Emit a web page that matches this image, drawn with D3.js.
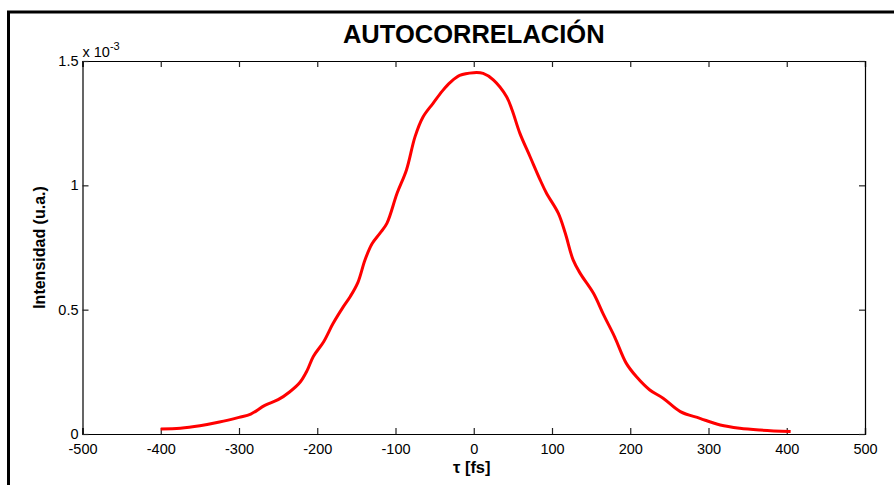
<!DOCTYPE html>
<html><head><meta charset="utf-8">
<script src="https://cdn.jsdelivr.net/npm/d3@7"></script>
<style>body{margin:0;background:#fff}svg{display:block}text{font-family:"Liberation Sans",Arial,sans-serif}</style>
</head><body>
<svg id="c" width="894" height="485"></svg>
<script>
const tau = [-400,-375,-350,-325,-300,-285,-267,-250,-235,-222,-213,-205,-192,-180,-167,-158,-148,-139,-130,-120,-111,-98,-86,-75,-65,-52,-40,-30,-18,0,12,25,42,49,59,72,85,93,108,117,127,136,153,166,180,195,208,225,242,264,289,315,340,366,405];
const intens = [0.020,0.023,0.033,0.048,0.067,0.080,0.115,0.138,0.170,0.208,0.255,0.312,0.370,0.443,0.510,0.552,0.610,0.700,0.765,0.807,0.847,0.968,1.062,1.196,1.274,1.330,1.380,1.414,1.442,1.453,1.450,1.424,1.356,1.303,1.209,1.115,1.021,0.968,0.888,0.807,0.700,0.646,0.566,0.479,0.391,0.284,0.230,0.177,0.144,0.090,0.063,0.036,0.023,0.016,0.010].map(v=>v*1e-3);
const xTicks = [-500,-400,-300,-200,-100,0,100,200,300,400,500];
const yTicks = [0,0.5e-3,1e-3,1.5e-3];
const yTickLabels = ["0","0.5","1","1.5"];
const title = "AUTOCORRELACIÓN";
const xLabel = "τ [fs]";
const yLabel = "Intensidad (u.a.)";

const svg = d3.select("#c");
const L=82.5, R=865, T=61, B=434;
const x = d3.scaleLinear().domain([-500,500]).range([L,R]);
const y = d3.scaleLinear().domain([0,1.5e-3]).range([B,T]);

svg.append("rect").attr("x",8.5).attr("y",12).attr("width",1000).attr("height",600)
  .attr("fill","none").attr("stroke","#000").attr("stroke-width",3);

const tl=6;
const gb = svg.append("g").attr("transform",`translate(0,${B})`)
  .call(d3.axisBottom(x).tickValues(xTicks).tickSize(-tl).tickPadding(10).tickFormat(d=>String(d)));
const gt = svg.append("g").attr("transform",`translate(0,${T})`)
  .call(d3.axisTop(x).tickValues(xTicks).tickSize(-tl).tickFormat(""));
const gl = svg.append("g").attr("transform",`translate(${L},0)`)
  .call(d3.axisLeft(y).tickValues(yTicks).tickSize(-tl).tickPadding(4).tickFormat((d,i)=>yTickLabels[i]));
const gr = svg.append("g").attr("transform",`translate(${R},0)`)
  .call(d3.axisRight(y).tickValues(yTicks).tickSize(-tl).tickFormat(""));
[gb,gt,gl,gr].forEach(g=>{
  g.select(".domain").attr("stroke","#000").attr("stroke-width",1.2);
  g.selectAll(".tick line").attr("stroke","#222").attr("stroke-width",1.2);
  g.selectAll("text").attr("fill","#000").style("font-size","14.5px").style("font-family",'"Liberation Sans",Arial,sans-serif');
});
gl.selectAll(".tick text").attr("dy","0.3em");

const line = d3.line().x((d,i)=>x(tau[i])).y((d,i)=>y(intens[i])).curve(d3.curveCatmullRom.alpha(0.5));
svg.append("path").attr("d",line(tau)).attr("fill","none").attr("stroke","#ff0000")
  .attr("stroke-width",3).attr("stroke-linejoin","round");

const ex = svg.append("text").attr("x",L).attr("y",57).style("font-size","14.5px").attr("fill","#000");
ex.append("tspan").text("x 10");
ex.append("tspan").attr("dy",-7).style("font-size","11px").text("-3");

svg.append("text").attr("x",(L+R)/2).attr("y",42.5).attr("text-anchor","middle")
  .style("font-size","25.5px").style("font-weight","bold").attr("fill","#000").text(title);
svg.append("text").attr("x",(L+R)/2 - 2).attr("y",473).attr("text-anchor","middle")
  .style("font-size","16.5px").style("font-weight","bold").attr("fill","#000").text(xLabel);
svg.append("text").attr("transform",`translate(45,${(T+B)/2}) rotate(-90)`).attr("text-anchor","middle")
  .style("font-size","16px").style("font-weight","bold").attr("fill","#000").text(yLabel);
</script>
</body></html>
